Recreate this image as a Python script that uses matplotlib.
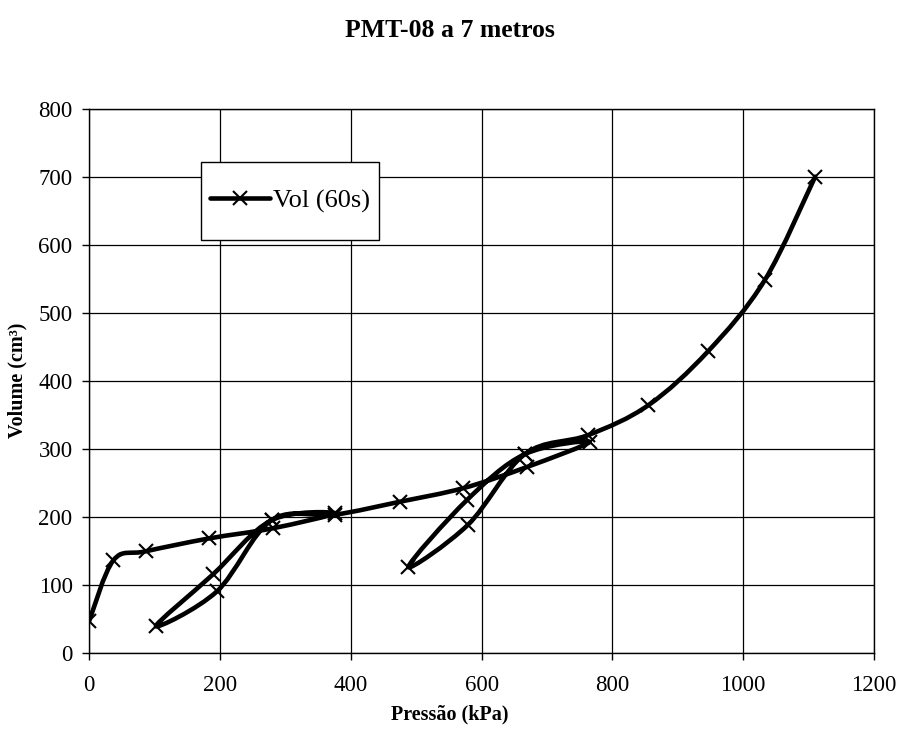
import matplotlib
matplotlib.use("Agg")
import matplotlib.pyplot as plt
import numpy as np
from matplotlib.path import Path
from matplotlib.patches import PathPatch, Rectangle
from matplotlib.lines import Line2D

# === Data (in test order: load, unload, reload ...) ===
pressao = [0, 37, 86, 183, 281, 376, 279, 189, 102, 195, 279, 376, 475, 572,
           669, 765, 666, 577, 488, 579, 666, 763, 855, 946, 1033, 1110]
volume = [47, 136, 149, 168, 183, 205, 195, 115, 39, 90, 195, 203, 222, 242,
          273, 310, 292, 224, 126, 188, 292, 320, 364, 443, 548, 700]

x_ticks = [0, 200, 400, 600, 800, 1000, 1200]
y_ticks = [0, 100, 200, 300, 400, 500, 600, 700, 800]

plt.rcParams['font.family'] = ['Liberation Serif', 'DejaVu Serif']

fig = plt.figure(figsize=(8.99, 7.37), dpi=100)
ax = fig.add_axes([0.0993, 0.1144, 0.8729, 0.7381])
ax.set_xlim(0, 1200)
ax.set_ylim(0, 800)


# === Excel-like smoothed line: cubic Bezier, controls computed in screen space ===
def smooth_path(xs, ys, sx, sy):
    pts = np.column_stack([np.asarray(xs, float) * sx, np.asarray(ys, float) * sy])
    n = len(pts)
    verts = [pts[0]]
    codes = [Path.MOVETO]
    for i in range(n - 1):
        p0 = pts[i - 1] if i > 0 else pts[i]
        p1 = pts[i]
        p2 = pts[i + 1]
        p3 = pts[i + 2] if i + 2 < n else pts[i + 1]
        c1 = p1 + (p2 - p0) / 6.0
        c2 = p2 - (p3 - p1) / 6.0
        verts += [c1, c2, p2]
        codes += [Path.CURVE4] * 3
    verts = np.array(verts)
    verts[:, 0] /= sx
    verts[:, 1] /= sy
    return Path(verts, codes)


sx = 784.7 / 1200
sy = 544.0 / 800
path = smooth_path(pressao, volume, sx, sy)
ax.add_patch(PathPatch(path, facecolor='none', edgecolor='black', lw=3.3,
                       capstyle='round', joinstyle='round', zorder=3))
ax.plot(pressao, volume, linestyle='none', marker='x', color='black',
        markersize=9.5, markeredgewidth=1.5, zorder=4)

# === Axes styling ===
ax.set_xticks(x_ticks)
ax.set_yticks(y_ticks)
ax.tick_params(direction='out', length=5, width=1, labelsize=16.5, color='black')
ax.tick_params(axis='x', pad=11)
ax.tick_params(axis='y', pad=7)
ax.grid(True, color='black', linewidth=0.9)
ax.set_axisbelow(True)
for s in ax.spines.values():
    s.set_color('black')
    s.set_linewidth(1)

fig.text(0.5, 0.959, "PMT-08 a 7 metros", ha='center', va='center',
         fontsize=18.5, fontweight='bold')
fig.text(0.5, 0.03, "Pressão (kPa)", ha='center', va='center',
         fontsize=14.5, fontweight='bold')
fig.text(0.02, 0.4835, "Volume (cm³)", ha='center', va='center', rotation=90,
         fontsize=14.5, fontweight='bold')

# === Legend box ===
ax.add_patch(Rectangle((0.142, 0.7586), 0.227, 0.144, transform=ax.transAxes,
                       facecolor='white', edgecolor='black', lw=1, zorder=5))
handle = Line2D([], [], color='black', lw=3.3, marker='x', markersize=9.5,
                markeredgewidth=1.5, solid_capstyle='round')
leg = ax.legend([handle], ["Vol (60s)"], loc='center',
                bbox_to_anchor=(0.2555, 0.8306), frameon=False, fontsize=19,
                handlelength=2.3, handletextpad=0.1, numpoints=1)
leg.set_zorder(6)

fig.savefig("out.png", dpi=100)
